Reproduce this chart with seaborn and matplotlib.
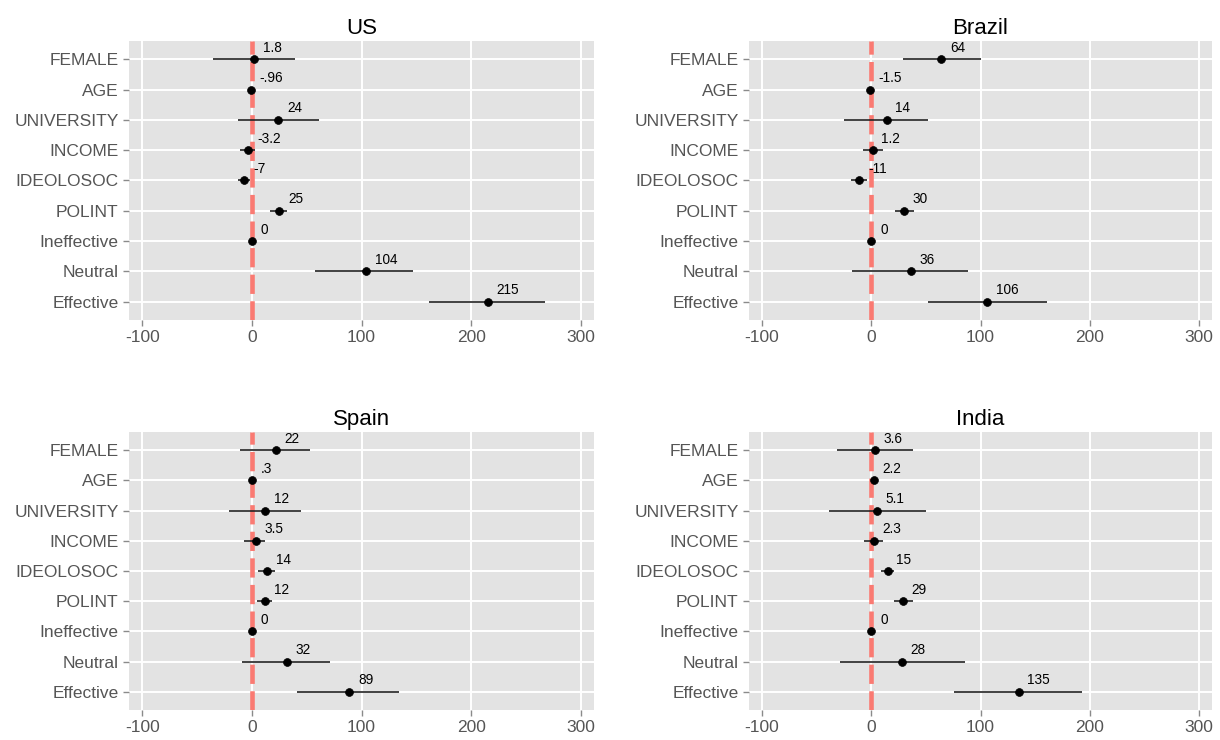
import matplotlib
matplotlib.use("Agg")
import matplotlib.pyplot as plt
import seaborn as sns
import pandas as pd
import numpy as np

variables = ["FEMALE", "AGE", "UNIVERSITY", "INCOME", "IDEOLOSOC", "POLINT",
             "Ineffective", "Neutral", "Effective"]
countries = ["US", "Brazil", "Spain", "India"]

us_est = [1.8, -0.96, 24, -3.2, -7, 25, 0, 104, 215]
us_lo = [-35, -2, -13, -11, -13, 17, 0, 58, 162]
us_hi = [39, 0, 61, 3, -2, 32, 0, 147, 267]
us_lab = ["1.8", "-.96", "24", "-3.2", "-7", "25", "0", "104", "215"]

br_est = [64, -1.5, 14, 1.2, -11, 30, 0, 36, 106]
br_lo = [29, -3, -25, -8, -19, 22, 0, -18, 52]
br_hi = [100, 0, 52, 11, -4, 39, 0, 89, 161]
br_lab = ["64", "-1.5", "14", "1.2", "-11", "30", "0", "36", "106"]

es_est = [22, 0.3, 12, 3.5, 14, 12, 0, 32, 89]
es_lo = [-11, -1, -21, -7, 6, 5, 0, -9, 41]
es_hi = [53, 1.5, 45, 12, 21, 18, 0, 71, 134]
es_lab = ["22", ".3", "12", "3.5", "14", "12", "0", "32", "89"]

in_est = [3.6, 2.2, 5.1, 2.3, 15, 29, 0, 28, 135]
in_lo = [-31, 1, -39, -7, 9, 21, 0, -29, 76]
in_hi = [38, 3.5, 50, 11, 21, 38, 0, 86, 193]
in_lab = ["3.6", "2.2", "5.1", "2.3", "15", "29", "0", "28", "135"]

x_ticks = [-100, 0, 100, 200, 300]

rows = []
for c, est, lo, hi, lab in [("US", us_est, us_lo, us_hi, us_lab),
                            ("Brazil", br_est, br_lo, br_hi, br_lab),
                            ("Spain", es_est, es_lo, es_hi, es_lab),
                            ("India", in_est, in_lo, in_hi, in_lab)]:
    for v, e, l, h, t in zip(variables, est, lo, hi, lab):
        rows.append(dict(country=c, variable=v, est=e, lo=l, hi=h, label=t))
df = pd.DataFrame(rows)

sns.set_theme(style="darkgrid")
plt.rcParams["font.family"] = ["Liberation Sans", "DejaVu Sans"]

W, H = 1220, 740
fig = plt.figure(figsize=(W / 100, H / 100), dpi=100)
fig.patch.set_facecolor("white")

boxes = {
    "US": (129, 41, 594, 320),
    "Brazil": (749, 41, 1212, 320),
    "Spain": (129, 432, 594, 710),
    "India": (749, 432, 1212, 710),
}

for c in countries:
    x0, y0, x1, y1 = boxes[c]
    ax = fig.add_axes([x0 / W, 1 - y1 / H, (x1 - x0) / W, (y1 - y0) / H])
    d = df[df.country == c].reset_index(drop=True)
    ypos = np.arange(len(d))
    ax.set_facecolor("#E3E3E3")
    ax.grid(True, color="white", linewidth=1.4)
    ax.set_axisbelow(True)
    for s in ax.spines.values():
        s.set_visible(False)

    ax.axvline(0, color="#FA7A72", linewidth=3.3, dashes=(4.2, 1.6), zorder=2)
    ax.hlines(ypos, d["lo"], d["hi"], color="#222222", linewidth=1.2, zorder=3)
    sns.scatterplot(x=d["est"], y=ypos, ax=ax, color="black", s=32,
                    edgecolor="black", linewidth=0.5, zorder=4, legend=False)
    for yi, (e, t) in enumerate(zip(d["est"], d["label"])):
        ax.text(e + 8, yi - 0.38, t, fontsize=9.8, color="black",
                ha="left", va="center", zorder=5)

    ax.set_xlim(-112, 312)
    ax.set_ylim(len(d) - 1 + 0.6, -0.6)
    ax.set_xticks(x_ticks)
    ax.set_xticklabels([str(v) for v in x_ticks])
    ax.set_yticks(ypos)
    ax.set_yticklabels(d["variable"])
    ax.set_xlabel("")
    ax.set_ylabel("")
    ax.tick_params(axis="both", which="both", length=4.5, width=1,
                   color="#8a8a8a", labelcolor="#555555", labelsize=12.5,
                   pad=3, left=True, bottom=True)
    ax.set_title(c, fontsize=16, color="black", pad=5)

fig.savefig("out.png", dpi=100, facecolor="white")
